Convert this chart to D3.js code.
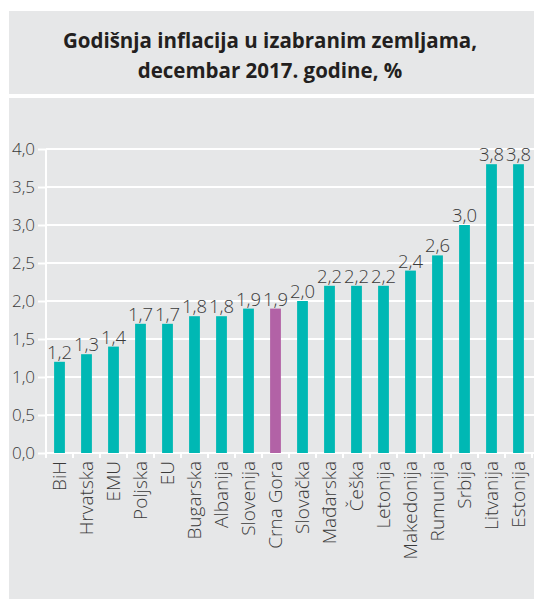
<!DOCTYPE html>
<html>
<head>
<meta charset="utf-8">
<script src="https://cdn.jsdelivr.net/npm/d3@7"></script>
<style>
  body { margin: 0; background: #fff; }
  svg { display: block; }
  text { font-family: "Open Sans", sans-serif; }
</style>
</head>
<body>
<svg id="chart"></svg>
<script>
// data
var countries = ["BiH", "Hrvatska", "EMU", "Poljska", "EU", "Bugarska", "Albanija", "Slovenija",
                 "Crna Gora", "Slovačka", "Mađarska", "Češka", "Letonija", "Makedonija",
                 "Rumunija", "Srbija", "Litvanija", "Estonija"];
var inflation = [1.2, 1.3, 1.4, 1.7, 1.7, 1.8, 1.8, 1.9, 1.9, 2.0, 2.2, 2.2, 2.2, 2.4, 2.6, 3.0, 3.8, 3.8];
var highlight = "Crna Gora";
var yTicks = [0, 0.5, 1, 1.5, 2, 2.5, 3, 3.5, 4];
var titleLines = ["Godišnja inflacija u izabranim zemljama,", "decembar 2017. godine, %"];

var width = 534, height = 600;
var grey = "#e6e7e8", teal = "#00b8b4", purple = "#b262a6", ink = "#3a3a3a";
var fmt = function(v) { return d3.format(".1f")(v).replace(".", ","); };

var svg = d3.select("#chart").attr("width", width).attr("height", height);

// panels
svg.append("rect").attr("x", 9).attr("y", 11).attr("width", width - 9).attr("height", 83).attr("fill", grey);
svg.append("rect").attr("x", 9).attr("y", 98).attr("width", width - 9).attr("height", 501).attr("fill", grey);

svg.selectAll("text.title")
    .data(titleLines)
    .enter()
    .append("text")
    .attr("class", "title")
    .attr("x", 270)
    .attr("y", function(d, i) { return 48 + i * 30; })
    .attr("text-anchor", "middle")
    .attr("font-size", "20.5px")
    .attr("font-weight", 700)
    .attr("fill", "#231f20")
    .text(function(d) { return d; });

var margin = {left: 46, top: 149, bottom: 453};

var x = d3.scaleBand()
    .domain(countries)
    .range([margin.left, margin.left + 27 * countries.length])
    .paddingInner(0.6)
    .paddingOuter(0.3);

var y = d3.scaleLinear()
    .domain([0, 4])
    .range([margin.bottom, margin.top]);

// gridlines
svg.append("g")
    .selectAll("line")
    .data(yTicks)
    .enter()
    .append("line")
    .attr("x1", margin.left)
    .attr("x2", width)
    .attr("y1", function(d) { return y(d); })
    .attr("y2", function(d) { return y(d); })
    .attr("stroke", "#fff")
    .attr("stroke-width", 2);

// y axis
var yAxis = svg.append("g")
    .attr("transform", "translate(" + margin.left + ",0)")
    .call(d3.axisLeft(y).tickValues(yTicks).tickFormat(fmt).tickSize(8).tickPadding(3));
yAxis.select(".domain").attr("stroke", "#fff").attr("stroke-width", 2).attr("d", "M0," + (margin.bottom + 4) + "V" + margin.top);
yAxis.selectAll(".tick line").attr("stroke", "#fff").attr("stroke-width", 2);
yAxis.selectAll(".tick text")
    .attr("font-size", "17px")
    .attr("font-weight", 300)
    .attr("fill", ink)
    .attr("font-family", "'Open Sans', sans-serif");

// x axis ticks between bands
var step = x.step();
var edges = d3.range(countries.length + 1).map(function(i) { return margin.left + i * step; });
svg.append("g")
    .selectAll("line")
    .data(edges)
    .enter()
    .append("line")
    .attr("x1", function(d) { return d; })
    .attr("x2", function(d) { return d; })
    .attr("y1", margin.bottom)
    .attr("y2", margin.bottom + 5)
    .attr("stroke", "#fff")
    .attr("stroke-width", 2);

// bars
svg.append("g")
    .selectAll("rect")
    .data(inflation)
    .enter()
    .append("rect")
    .attr("x", function(d, i) { return x(countries[i]); })
    .attr("y", function(d) { return y(d); })
    .attr("width", x.bandwidth())
    .attr("height", function(d) { return y(0) - y(d); })
    .attr("fill", function(d, i) { return countries[i] === highlight ? purple : teal; });

// value labels
svg.append("g")
    .selectAll("text")
    .data(inflation)
    .enter()
    .append("text")
    .attr("x", function(d, i) { return x(countries[i]) + x.bandwidth() / 2; })
    .attr("y", function(d) { return y(d) - 3; })
    .attr("text-anchor", "middle")
    .attr("font-size", "18.5px")
    .attr("font-weight", 300)
    .attr("fill", ink)
    .text(fmt);

// category labels
svg.append("g")
    .selectAll("text")
    .data(countries)
    .enter()
    .append("text")
    .attr("transform", function(d) {
        return "translate(" + (x(d) + x.bandwidth() / 2 + 6) + "," + (margin.bottom + 8) + ") rotate(-90)";
    })
    .attr("text-anchor", "end")
    .attr("font-size", "19px")
    .attr("font-weight", 300)
    .attr("fill", ink)
    .text(function(d) { return d; });
</script>
</body>
</html>
